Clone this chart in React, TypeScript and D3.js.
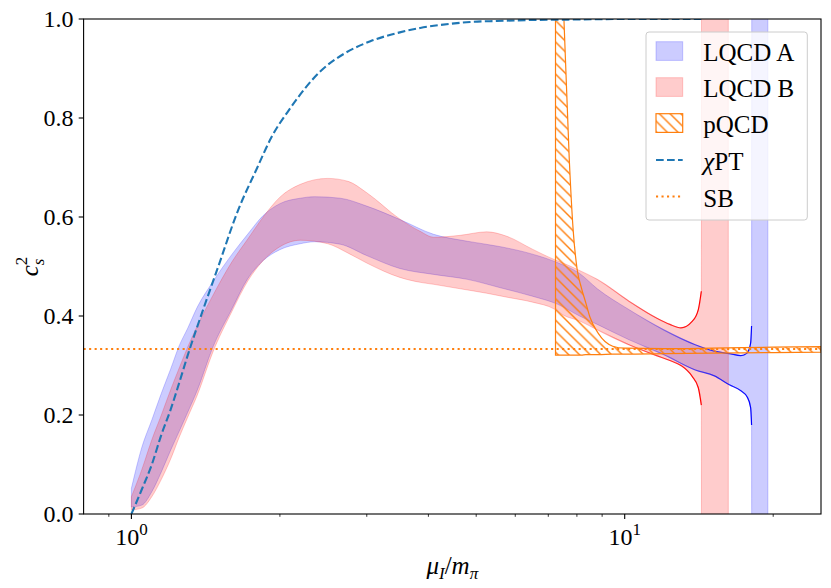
import React from 'react';
import * as d3 from 'd3';

// ---------- data ----------
// chiral perturbation theory curve
const chptMu = [1.0, 1.05, 1.1, 1.15, 1.2, 1.25, 1.3, 1.4, 1.5, 1.64, 1.8, 1.92, 2.1, 2.42, 2.7, 3.05, 3.5, 3.85, 4.4, 4.86, 5.5, 6.5, 8, 10, 14.3];
const chptC = [0.0, 0.05, 0.10, 0.16, 0.21, 0.265, 0.32, 0.415, 0.50, 0.61, 0.70, 0.76, 0.82, 0.895, 0.93, 0.955, 0.973, 0.982, 0.99, 0.994, 0.996, 0.998, 0.999, 1.0, 1.0];

// LQCD A band
const muA = [1.0, 1.05, 1.1, 1.15, 1.2, 1.25, 1.3, 1.36, 1.46, 1.6, 1.72, 1.85, 2.0, 2.2, 2.35, 2.65, 3.0, 3.5, 4.1, 4.8, 5.6, 6.5, 7.3, 8.1, 8.8, 10.2, 12.0, 13.9, 15.2, 16.3, 17.2, 17.7, 18.0, 18.08, 18.11, 19.51];
const upA = [0.052, 0.135, 0.19, 0.244, 0.292, 0.34, 0.375, 0.418, 0.468, 0.525, 0.565, 0.603, 0.627, 0.638, 0.641, 0.638, 0.622, 0.595, 0.565, 0.551, 0.540, 0.525, 0.508, 0.486, 0.455, 0.413, 0.372, 0.342, 0.329, 0.324, 0.320, 0.325, 0.345, 0.38, 2.0, 2.0];
const lowA = [0.014, 0.018, 0.045, 0.085, 0.128, 0.167, 0.205, 0.25, 0.335, 0.415, 0.475, 0.512, 0.534, 0.546, 0.550, 0.545, 0.522, 0.496, 0.484, 0.474, 0.457, 0.44, 0.424, 0.40, 0.383, 0.352, 0.322, 0.291, 0.279, 0.261, 0.249, 0.237, 0.215, 0.18, -1.0, -1.0];

// LQCD B band
const muB = [1.0, 1.05, 1.1, 1.15, 1.2, 1.25, 1.3, 1.36, 1.46, 1.6, 1.72, 1.85, 2.0, 2.2, 2.5, 2.75, 3.0, 3.5, 3.85, 4.1, 4.64, 5.25, 5.77, 6.5, 7.2, 7.5, 8.1, 8.8, 10.2, 11.6, 12.35, 13.0, 13.7, 14.1, 14.3, 14.33, 16.22];
const upB = [0.035, 0.09, 0.15, 0.20, 0.25, 0.295, 0.337, 0.38, 0.44, 0.51, 0.555, 0.60, 0.640, 0.666, 0.678, 0.672, 0.649, 0.596, 0.571, 0.559, 0.563, 0.570, 0.561, 0.535, 0.514, 0.507, 0.492, 0.474, 0.430, 0.396, 0.383, 0.376, 0.389, 0.413, 0.45, 2.0, 2.0];
const lowB = [0.008, 0.012, 0.035, 0.07, 0.11, 0.155, 0.195, 0.24, 0.325, 0.41, 0.47, 0.512, 0.540, 0.553, 0.546, 0.527, 0.507, 0.478, 0.468, 0.464, 0.455, 0.446, 0.438, 0.428, 0.414, 0.402, 0.39, 0.372, 0.342, 0.32, 0.31, 0.300, 0.278, 0.255, 0.22, -1.0, -1.0];

// pQCD band
const muP = [7.24, 7.35, 7.53, 7.72, 7.86, 8.01, 8.17, 8.34, 8.5, 8.84, 9.46, 10.0, 12, 15, 20, 25];
const upP = [1.5, 1.2, 1.0, 0.717, 0.575, 0.494, 0.457, 0.4265, 0.398, 0.365, 0.339, 0.335, 0.334, 0.335, 0.337, 0.338];
const lowP = [0.321, 0.321, 0.321, 0.321, 0.321, 0.321, 0.321, 0.322, 0.322, 0.322, 0.323, 0.323, 0.324, 0.325, 0.326, 0.327];

// Stefan-Boltzmann limit
const sbValue = 1 / 3;

// ticks
const xMajorTicks = [1, 10];
const xMajorLabels = ['0', '1'];
const xMinorTicks = [0.9, 2, 3, 4, 5, 6, 7, 8, 9, 20];
const yTicks = [0, 0.2, 0.4, 0.6, 0.8, 1.0];

const legendLabels = ['LQCD A', 'LQCD B', 'pQCD', 'χPT', 'SB'];

// ---------- style ----------
const FONT = "'Liberation Serif'";
const BLUE = '#0000ff';
const RED = '#ff0000';
const ORANGE = '#ff7f0e';
const TAB_BLUE = '#1f77b4';

export default function App() {
  const left = 83.6, right = 821, top = 19, bottom = 514;
  const x = d3.scaleLog().domain([0.8, 25]).range([left, right]);
  const y = d3.scaleLinear().domain([0, 1]).range([bottom, top]);

  const bandPath = (mu: number[], lo: number[], up: number[]) =>
    d3.area<number>().x((d) => x(d)).y0((_, i) => y(lo[i])).y1((_, i) => y(up[i])).curve(d3.curveMonotoneX)(mu) || '';
  const linePath = (mu: number[], v: number[]) =>
    d3.line<number>().x((d) => x(d)).y((_, i) => y(v[i])).curve(d3.curveMonotoneX)(mu) || '';
  const finite = (mu: number[], v: number[]) => {
    const idx = v.map((d, i) => (d > -0.5 && d < 1.5 ? i : -1)).filter((i) => i >= 0);
    return [idx.map((i) => mu[i]), idx.map((i) => v[i])] as [number[], number[]];
  };
  const [fmuA, fupA] = finite(muA, upA);
  const [, flowA] = finite(muA, lowA);
  const [fmuB, fupB] = finite(muB, upB);
  const [, flowB] = finite(muB, lowB);

  const hatchW = 10.7;
  const legendRows = [51, 87, 123, 160, 196.5];
  const txt = { fontFamily: FONT };

  return (
    <svg width={831} height={588} style={{ position: 'absolute', left: 0, top: 0, background: '#fff' }}>
      <defs>
        <clipPath id="plotClip"><rect x={left} y={top} width={right - left} height={bottom - top} /></clipPath>
        <pattern id="hatch" patternUnits="userSpaceOnUse" width={hatchW} height={hatchW}>
          <path d={`M0,0 L${hatchW},${hatchW} M${hatchW - 1},-1 L${hatchW + 1},1 M-1,${hatchW - 1} L1,${hatchW + 1}`} stroke={ORANGE} strokeWidth={1.4} />
        </pattern>
        <linearGradient id="gradB" gradientUnits="userSpaceOnUse" x1={x(8.5)} x2={x(14.33)} y1={0} y2={0}>
          <stop offset="0" stopColor={RED} stopOpacity={0} />
          <stop offset="0.45" stopColor={RED} stopOpacity={0.55} />
          <stop offset="1" stopColor={RED} stopOpacity={1} />
        </linearGradient>
        <linearGradient id="gradA" gradientUnits="userSpaceOnUse" x1={x(10.5)} x2={x(18.11)} y1={0} y2={0}>
          <stop offset="0" stopColor={BLUE} stopOpacity={0} />
          <stop offset="0.45" stopColor={BLUE} stopOpacity={0.55} />
          <stop offset="1" stopColor={BLUE} stopOpacity={1} />
        </linearGradient>
      </defs>

      <g clipPath="url(#plotClip)">
        <path d={bandPath(muA, lowA, upA)} fill={BLUE} fillOpacity={0.2} stroke={BLUE} strokeOpacity={0.2} strokeWidth={1} />
        <path d={bandPath(muB, lowB, upB)} fill={RED} fillOpacity={0.2} stroke={RED} strokeOpacity={0.2} strokeWidth={1} />
        <path d={linePath(fmuA, fupA)} fill="none" stroke="url(#gradA)" strokeWidth={1.2} />
        <path d={linePath(fmuA, flowA)} fill="none" stroke="url(#gradA)" strokeWidth={1.2} />
        <path d={linePath(fmuB, fupB)} fill="none" stroke="url(#gradB)" strokeWidth={1.2} />
        <path d={linePath(fmuB, flowB)} fill="none" stroke="url(#gradB)" strokeWidth={1.2} />
        <path d={bandPath(muP, lowP, upP)} fill="url(#hatch)" stroke={ORANGE} strokeWidth={1.2} />
        <path d={linePath(chptMu, chptC)} fill="none" stroke={TAB_BLUE} strokeWidth={2.1} strokeDasharray="7.7,3.3" />
        <line x1={left} x2={right} y1={y(sbValue)} y2={y(sbValue)} stroke={ORANGE} strokeWidth={2.1} strokeDasharray="2.1,3.4" />
      </g>

      <rect x={left} y={top} width={right - left} height={bottom - top} fill="none" stroke="#000" strokeWidth={1.1} />

      {yTicks.map((t) => (
        <g key={'y' + t}>
          <line x1={left - 4.9} x2={left} y1={y(t)} y2={y(t)} stroke="#000" strokeWidth={1.1} />
          <text x={left - 10} y={y(t)} dy="0.34em" textAnchor="end" fontSize={24} fill="#000" style={txt}>{d3.format('.1f')(t)}</text>
        </g>
      ))}
      {xMajorTicks.map((t, i) => (
        <g key={'xm' + t}>
          <line x1={x(t)} x2={x(t)} y1={bottom} y2={bottom + 4.9} stroke="#000" strokeWidth={1.1} />
          <text x={x(t)} y={545} textAnchor="middle" fontSize={24} fill="#000" style={txt}>
            10<tspan fontSize={17} dy={-10}>{xMajorLabels[i]}</tspan>
          </text>
        </g>
      ))}
      {xMinorTicks.map((t) => (
        <line key={'xn' + t} x1={x(t)} x2={x(t)} y1={bottom} y2={bottom + 2.8} stroke="#000" strokeWidth={0.8} />
      ))}

      <text x={(left + right) / 2} y={574} textAnchor="middle" fontSize={25} fill="#000" style={txt}>
        <tspan fontStyle="italic">μ</tspan>
        <tspan fontStyle="italic" fontSize={17} dy={5}>I</tspan>
        <tspan dy={-5}>/</tspan>
        <tspan fontStyle="italic">m</tspan>
        <tspan fontStyle="italic" fontSize={17} dy={5}>π</tspan>
      </text>
      <g transform={`translate(38,${(top + bottom) / 2}) rotate(-90)`}>
        <text x={0} y={0} textAnchor="middle" fontSize={25} fill="#000" style={txt}>
          <tspan fontStyle="italic">c</tspan>
          <tspan fontSize={17} dy={-11}>2</tspan>
          <tspan fontStyle="italic" fontSize={17} dx={-8.5} dy={17}>s</tspan>
        </text>
      </g>

      <rect x={646} y={32} width={161.3} height={188} rx={3} fill="#fff" fillOpacity={0.8} stroke="#cccccc" strokeWidth={1} />
      <rect x={656} y={legendRows[0] - 9.3} width={26.7} height={18.7} fill={BLUE} fillOpacity={0.2} stroke={BLUE} strokeOpacity={0.2} />
      <rect x={656} y={legendRows[1] - 9.3} width={26.7} height={18.7} fill={RED} fillOpacity={0.2} stroke={RED} strokeOpacity={0.2} />
      <rect x={656} y={legendRows[2] - 9.3} width={26.7} height={18.7} fill="url(#hatch)" stroke={ORANGE} strokeWidth={1.2} />
      <line x1={656} x2={682.7} y1={legendRows[3]} y2={legendRows[3]} stroke={TAB_BLUE} strokeWidth={2.1} strokeDasharray="7.7,3.3" />
      <line x1={656} x2={682.7} y1={legendRows[4]} y2={legendRows[4]} stroke={ORANGE} strokeWidth={2.1} strokeDasharray="2.1,3.4" />
      {legendLabels.map((lab, i) => (
        <text key={lab} x={703.3} y={legendRows[i] + 10} fontSize={25} fill="#000" style={txt}>
          {lab === 'χPT' ? (<><tspan fontStyle="italic">χ</tspan><tspan>PT</tspan></>) : lab}
        </text>
      ))}
    </svg>
  );
}
